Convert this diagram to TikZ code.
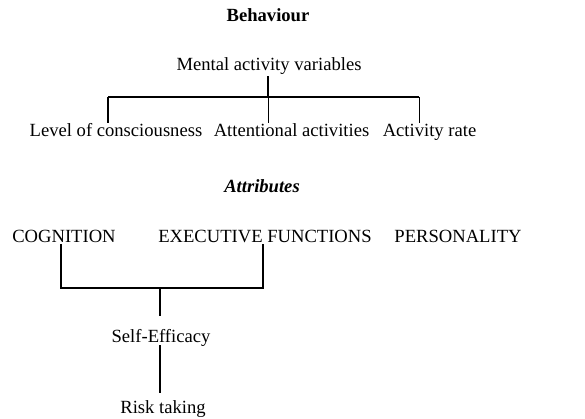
\documentclass[tikz,border=0pt]{standalone}
\usepackage{fontspec}
\setmainfont{Liberation Serif}
\begin{document}
\begin{tikzpicture}[x=1pt,y=-1pt,
  lbl/.style={anchor=base,inner sep=1pt,font=\fontsize{18.6}{21}\selectfont},
  heavy/.style={line width=2pt},
  light/.style={line width=0.8pt}]
\useasboundingbox (0,0) rectangle (585,419);
% upper block: behaviour
\node[lbl,font=\fontsize{18.6}{21}\selectfont\bfseries] (beh) at (268,22) {Behaviour};
\node[lbl] (mav) at (269,71) {Mental activity variables};
\node[lbl] (loc) at (116,137) {Level of consciousness};
\node[lbl] (att) at (291.5,137) {Attentional activities};
\node[lbl] (rate) at (429.5,137) {Activity rate};
\coordinate (bl) at (108,97);
\coordinate (bm) at (268,97);
\coordinate (br) at (419,97);
\draw[line width=1.3pt] (mav.south -| bm) -- (bm);
\draw[heavy] (bl) -- (br);
\draw[heavy] (bl) -- (bl |- loc.north);
\draw[light] (bm) -- (bm |- att.north);
\draw[light] (br) -- (br |- rate.north);
% lower block: attributes
\node[lbl,font=\fontsize{18.6}{21}\selectfont\bfseries\itshape] (attr) at (262,193) {Attributes};
\node[lbl] (cog) at (64,243) {COGNITION};
\node[lbl] (exf) at (265,243) {EXECUTIVE FUNCTIONS};
\node[lbl] (per) at (458,243) {PERSONALITY};
\node[lbl] (self) at (161,342) {Self-Efficacy};
\node[lbl] (risk) at (163,413) {Risk taking};
\coordinate (cl) at (61,288);
\coordinate (cr) at (263,288);
\coordinate (cm) at (160,288);
\coordinate (st) at (160,316);
\coordinate (sb) at (160,345);
\coordinate (rt) at (160,393);
\draw[heavy] (cog.south -| cl) -- (cl) -- (cr) -- (exf.south -| cr);
\draw[heavy] (cm) -- (st);
\draw[heavy] (sb) -- (rt);
\end{tikzpicture}
\end{document}
